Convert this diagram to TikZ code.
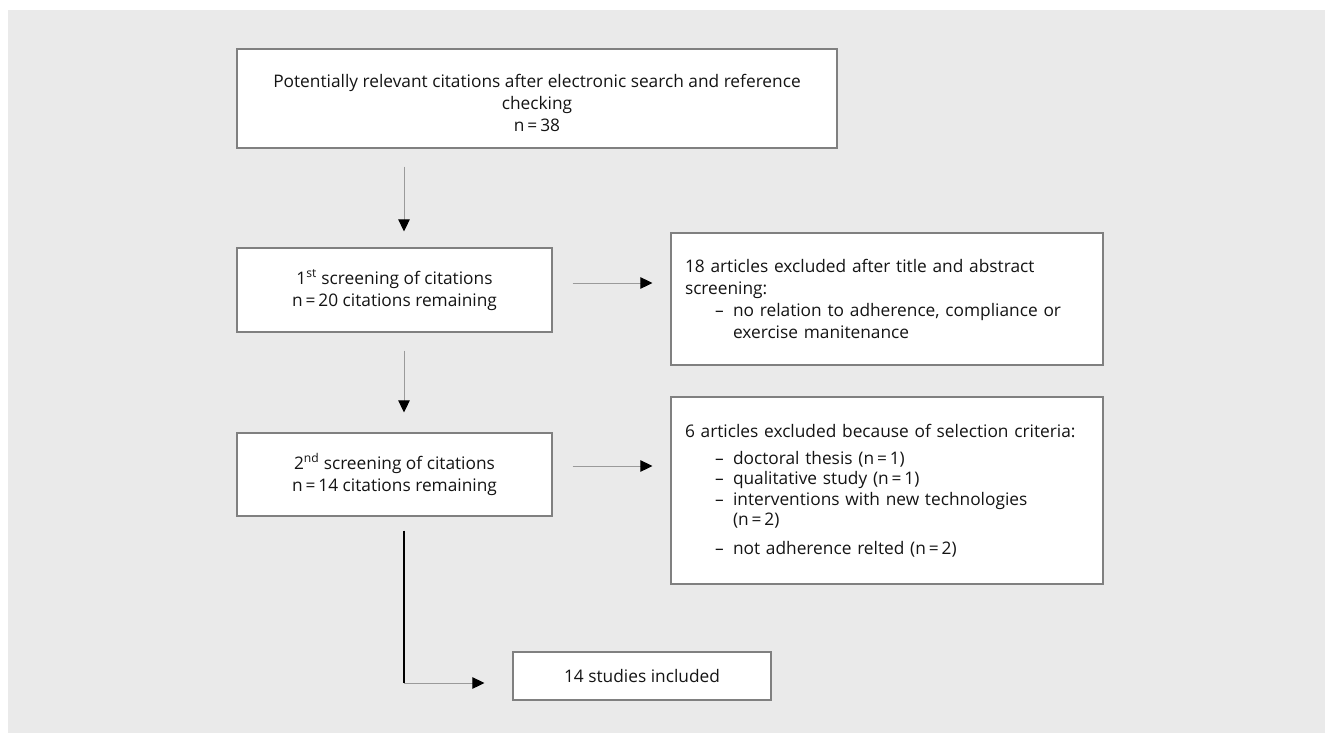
\documentclass[tikz,border=0pt]{standalone}
\usepackage{fontspec}
\setmainfont{Open Sans}
\usetikzlibrary{arrows.meta}
\definecolor{panel}{HTML}{EAEAEA}
\definecolor{boxgray}{HTML}{808080}
\definecolor{linegray}{HTML}{9A9A9A}
\definecolor{txt}{HTML}{141414}
\begin{document}
\begin{tikzpicture}[x=1pt,y=-1pt,
  box/.style={draw=boxgray, line width=1.2pt, fill=white, text=txt, inner sep=0pt, align=center, font=\fontsize{17.3}{22}\selectfont},
  exbox/.style={box, align=left, text width=404pt, inner xsep=14pt, minimum height=#1},
  arr/.style={draw=linegray, line width=1pt, -{Triangle[length=12pt,width=11.5pt,color=black]}},
]
\useasboundingbox (0,0) rectangle (1325,733);
\fill[white] (0,0) rectangle (1325,733);
\fill[panel] (8,10) rectangle (1325,733);

\coordinate (c1) at (404,0);
\coordinate (r1) at (0,283);
\coordinate (r2) at (0,466);
\coordinate (corner) at (404,683);

\node[box, minimum width=600pt, minimum height=99pt] (top) at (537,98.5)
  {\rule{0pt}{22pt}Potentially relevant citations after electronic search and reference\\checking\\n\,=\,38};
\node[box, minimum width=315pt, minimum height=84pt] (box1) at (394.5,290)
  {1\textsuperscript{st} screening of citations\\n\,=\,20 citations remaining};
\node[box, minimum width=315pt, minimum height=83pt] (box2) at (394.5,474.5)
  {2\textsuperscript{nd} screening of citations\\n\,=\,14 citations remaining};
\node[exbox=132pt] (ex1) at (887,299)
  {18 articles excluded after title and abstract\\
   screening:\\
   \hspace*{30pt}\makebox[18pt][l]{–}no relation to adherence, compliance or\\
   \hspace*{48pt}exercise manitenance};
\node[exbox=187pt, font=\fontsize{17.3}{20.5}\selectfont] (ex2) at (887,490.5)
  {6 articles excluded because of selection criteria:\\[6pt]
   \hspace*{30pt}\makebox[18pt][l]{–}doctoral thesis (n\,=\,1)\\
   \hspace*{30pt}\makebox[18pt][l]{–}qualitative study (n\,=\,1)\\
   \hspace*{30pt}\makebox[18pt][l]{–}interventions with new technologies\\
   \hspace*{48pt}(n\,=\,2)\\[8pt]
   \hspace*{30pt}\makebox[18pt][l]{–}not adherence relted (n\,=\,2)};
\node[box, minimum width=258pt, minimum height=48pt] (final) at (642,676)
  {14 studies included};

\draw[arr, shorten <=18pt, shorten >=16pt] (top.south -| c1) -- (box1.north -| c1);
\draw[arr, shorten <=18pt, shorten >=20pt] (box1.south -| c1) -- (box2.north -| c1);
\draw[arr, shorten <=20pt, shorten >=18pt] (box1.east |- r1) -- (ex1.west |- r1);
\draw[arr, shorten <=20pt, shorten >=18pt] (box2.east |- r2) -- (ex2.west |- r2);
\draw[line width=1.8pt, black, shorten <=14pt] (box2.south -| c1) -- (corner);
\draw[arr, shorten >=28pt] (corner) -- (final.west |- corner);
\end{tikzpicture}
\end{document}
